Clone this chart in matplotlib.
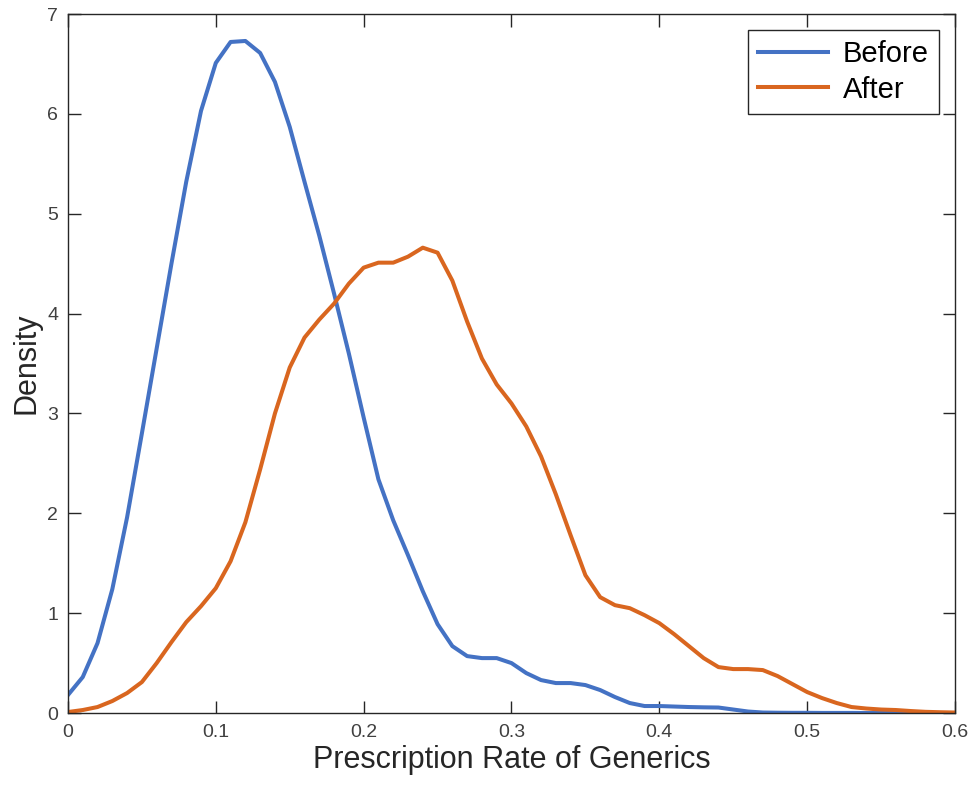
import numpy as np
import matplotlib.pyplot as plt

plt.rcParams['font.family'] = ['Liberation Sans', 'DejaVu Sans']

# rate grid, step 0.01
rate = np.round(np.arange(0, 0.601, 0.01), 2)

before = [0.18, 0.36, 0.70, 1.24, 1.96, 2.80, 3.65, 4.50, 5.32, 6.03,
          6.51, 6.72, 6.73, 6.61, 6.32, 5.87, 5.32, 4.78, 4.20, 3.60,
          2.96, 2.34, 1.93, 1.58, 1.22, 0.89, 0.67, 0.57, 0.55, 0.55,
          0.50, 0.40, 0.33, 0.30, 0.30, 0.28, 0.23, 0.16, 0.10, 0.07,
          0.07, 0.065, 0.06, 0.057, 0.055, 0.035, 0.015, 0.005, 0.003, 0.002,
          0.002, 0.001, 0.001, 0.001, 0.0, 0.0, 0.0, 0.0, 0.0, 0.0,
          0.0]

after = [0.01, 0.03, 0.06, 0.12, 0.20, 0.31, 0.50, 0.71, 0.91, 1.07,
         1.25, 1.52, 1.91, 2.44, 3.00, 3.46, 3.76, 3.94, 4.10, 4.30,
         4.46, 4.51, 4.51, 4.57, 4.66, 4.61, 4.33, 3.92, 3.55, 3.29,
         3.10, 2.87, 2.57, 2.19, 1.78, 1.38, 1.16, 1.08, 1.05, 0.98,
         0.90, 0.79, 0.67, 0.55, 0.46, 0.44, 0.44, 0.43, 0.37, 0.29,
         0.21, 0.15, 0.10, 0.06, 0.045, 0.035, 0.03, 0.02, 0.012, 0.008,
         0.005]

fig = plt.figure(figsize=(9.75, 7.87), dpi=100)
ax = fig.add_axes([0.0697, 0.094, 0.9098, 0.8882])

ax.plot(rate, before, color='#4472c4', lw=2.9, label='Before')
ax.plot(rate, after, color='#d9661f', lw=2.9, label='After')

ax.set_xlim(0, 0.6)
ax.set_ylim(0, 7)
ax.set_xticks([0, 0.1, 0.2, 0.3, 0.4, 0.5, 0.6])
ax.set_xticklabels(['0', '0.1', '0.2', '0.3', '0.4', '0.5', '0.6'])
ax.set_yticks(range(8))
ax.tick_params(direction='in', top=True, right=True, length=9, width=1,
               labelsize=14, colors='#262626', labelcolor='#404040')
ax.tick_params(axis='x', pad=8)
ax.tick_params(axis='y', pad=7)
for s in ax.spines.values():
    s.set_color('#262626')
    s.set_linewidth(1)

ax.set_xlabel('Prescription Rate of Generics', fontsize=22, color='#262626',
              labelpad=3)
ax.set_ylabel('Density', fontsize=22, color='#262626', labelpad=4)

leg = ax.legend(loc='upper right', fontsize=21, fancybox=False,
                edgecolor='#262626', framealpha=1, handlelength=2.4,
                borderaxespad=0.55, handletextpad=0.5, labelspacing=0.25,
                borderpad=0.35)
leg.get_frame().set_linewidth(1)

fig.savefig('out.png', dpi=100)
